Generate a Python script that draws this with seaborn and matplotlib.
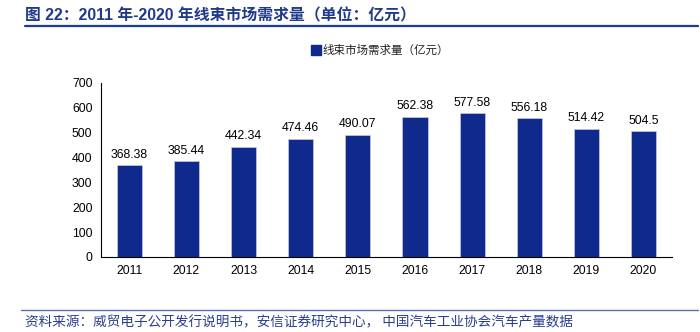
import matplotlib
matplotlib.use("Agg")
import matplotlib.pyplot as plt
import seaborn as sns
import pandas as pd
import numpy as np
from matplotlib.lines import Line2D

years = ["2011", "2012", "2013", "2014", "2015", "2016", "2017", "2018", "2019", "2020"]
values = [368.38, 385.44, 442.34, 474.46, 490.07, 562.38, 577.58, 556.18, 514.42, 504.5]
labels = ["368.38", "385.44", "442.34", "474.46", "490.07", "562.38", "577.58", "556.18", "514.42", "504.5"]
series_name = "线束市场需求量（亿元）"
title = "图 22：2011 年-2020 年线束市场需求量（单位：亿元）"
source = "资料来源：威贸电子公开发行说明书，安信证券研究中心， 中国汽车工业协会汽车产量数据"
yticks = [0, 100, 200, 300, 400, 500, 600, 700]

sns.set_theme(style="white")
plt.rcParams["font.family"] = ["Liberation Sans", "Noto Sans CJK SC", "DejaVu Sans"]

bar_color = "#0F2A8C"
title_color = "#1F3A8A"

df = pd.DataFrame({"year": years, "value": values})

fig = plt.figure(figsize=(7, 3.32), dpi=100)
ax = fig.add_axes([0.144, 0.226, 0.816, 0.525])
sns.barplot(data=df, x="year", y="value", color=bar_color, width=0.44,
            saturation=1, ax=ax, edgecolor="#C8CCE0", linewidth=0.5)

ax.set_ylim(0, 700)
ax.set_yticks(yticks)
ax.set_xlim(-0.5, len(years) - 0.5)
ax.set_xlabel("")
ax.set_ylabel("")
for s in ["top", "right"]:
    ax.spines[s].set_visible(False)
for s in ["left", "bottom"]:
    ax.spines[s].set_color("black")
    ax.spines[s].set_linewidth(0.8)

ax.tick_params(axis="x", which="major", length=0, labelsize=8.8, pad=6, colors="black")
ax.tick_params(axis="y", which="major", direction="in", length=3, width=0.8,
               labelsize=8.8, pad=6, colors="black")
ax.set_xticks(np.arange(-0.5, len(years), 1.0), minor=True)
ax.tick_params(axis="x", which="minor", direction="in", length=3, width=0.8, color="black")

for i, (v, lab) in enumerate(zip(values, labels)):
    ax.text(i, v + 18, lab, ha="center", va="bottom", fontsize=8.8, color="black")

handle = Line2D([0], [0], marker="s", linestyle="none", markersize=6.5,
                markerfacecolor=bar_color, markeredgecolor=bar_color)
leg = fig.legend([handle], [series_name], loc="center", bbox_to_anchor=(0.543, 0.848),
                 frameon=False, handletextpad=0.1, handlelength=0.8,
                 prop={"family": ["Noto Sans CJK SC"], "size": 8.3})
for t in leg.get_texts():
    t.set_color("#222222")

fig.text(0.036, 0.952, title, fontsize=11.4, fontweight="bold", color=title_color,
         ha="left", va="center", family=["Liberation Sans", "Noto Sans CJK SC"])
fig.add_artist(Line2D([0.036, 0.997], [0.921, 0.921], color="#1A3AA0", linewidth=1.6,
                      transform=fig.transFigure))
fig.add_artist(Line2D([0.03, 0.997], [0.066, 0.066], color="#5A6FB0", linewidth=1.0,
                      transform=fig.transFigure))
fig.text(0.036, 0.028, source, fontsize=9.8, style="italic", color="#2A3F8F",
         ha="left", va="center", family=["Noto Sans CJK SC"])

fig.savefig("out.png", dpi=100)
